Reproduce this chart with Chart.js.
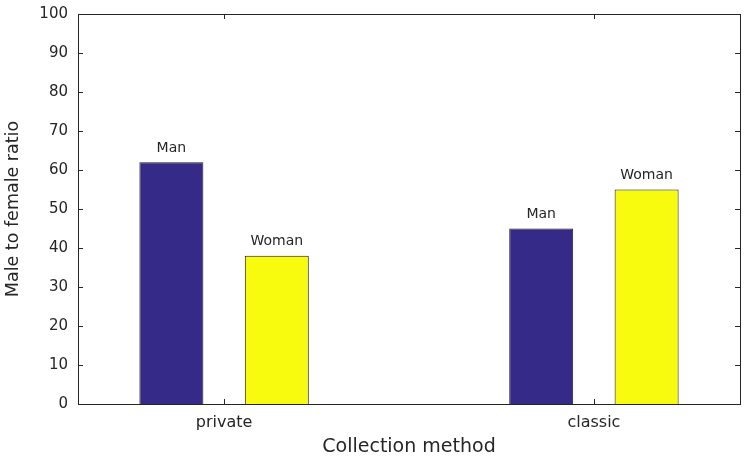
<!DOCTYPE html>
<html>
<head>
<meta charset="utf-8">
<script src="https://cdn.jsdelivr.net/npm/chart.js@4"></script>
<style>
  html, body { margin: 0; padding: 0; background: #fff; }
  #wrap { width: 756px; height: 464px; }
</style>
</head>
<body>
<div id="wrap"><canvas id="chart" width="756" height="464"></canvas></div>
<script>
const categories = ['private', 'classic'];
const seriesNames = ['Man', 'Woman'];
const manValues = [62, 45];
const womanValues = [38, 55];
const yTicks = [0, 10, 20, 30, 40, 50, 60, 70, 80, 90, 100];

const textColor = '#262626';
const fontFam = '"DejaVu Sans", "Liberation Sans", Arial, sans-serif';

// frame + inward tick marks, matlab style
const framePlugin = {
  id: 'frame',
  afterDraw(chart) {
    const { ctx, chartArea: a, scales } = chart;
    ctx.save();
    ctx.strokeStyle = '#262626';
    ctx.lineWidth = 1;
    ctx.strokeRect(Math.round(a.left) + 0.5, Math.round(a.top) + 0.5,
      Math.round(a.right - a.left), Math.round(a.bottom - a.top));
    ctx.beginPath();
    yTicks.forEach(v => {
      const y = Math.round(scales.y.getPixelForValue(v)) + 0.5;
      ctx.moveTo(a.left, y); ctx.lineTo(a.left + 5, y);
      ctx.moveTo(a.right, y); ctx.lineTo(a.right - 5, y);
    });
    categories.forEach((c, i) => {
      const x = Math.round(scales.x.getPixelForValue(i + 1)) + 0.5;
      ctx.moveTo(x, a.bottom); ctx.lineTo(x, a.bottom - 5);
      ctx.moveTo(x, a.top); ctx.lineTo(x, a.top + 5);
    });
    ctx.stroke();

    // series names above the bars
    ctx.fillStyle = textColor;
    ctx.font = '14px ' + fontFam;
    ctx.textAlign = 'center';
    ctx.textBaseline = 'middle';
    chart.data.datasets.forEach((ds, di) => {
      chart.getDatasetMeta(di).data.forEach(bar => {
        ctx.fillText(ds.label, bar.x, bar.y - 14);
      });
    });
    ctx.restore();
  }
};

new Chart(document.getElementById('chart'), {
  type: 'bar',
  data: {
    datasets: [
      {
        label: seriesNames[0],
        data: manValues.map((v, i) => ({ x: i + 1, y: v })),
        backgroundColor: 'rgb(53, 42, 135)',
        borderColor: '#1a1a1a',
        borderWidth: 1,
      },
      {
        label: seriesNames[1],
        data: womanValues.map((v, i) => ({ x: i + 1, y: v })),
        backgroundColor: 'rgb(249, 251, 14)',
        borderColor: '#1a1a1a',
        borderWidth: 1,
      },
    ],
  },
  options: {
    responsive: false,
    animation: false,
    maintainAspectRatio: false,
    categoryPercentage: 0.57,
    barPercentage: 0.607,
    layout: { padding: { top: 14, right: 16, left: 0, bottom: 0 } },
    plugins: {
      legend: { display: false },
      tooltip: { enabled: false },
    },
    scales: {
      x: {
        type: 'linear',
        offset: false,
        min: 0.605,
        max: 2.395,
        grid: { display: false, drawTicks: false },
        border: { display: false },
        ticks: {
          stepSize: 1,
          includeBounds: false,
          padding: 9,
          color: textColor,
          font: { size: 16, family: fontFam },
          callback: v => categories[v - 1] ?? '',
          maxRotation: 0,
        },
        title: {
          display: true,
          text: 'Collection method',
          color: textColor,
          font: { size: 19, family: fontFam },
          padding: { top: 4, bottom: 6 },
        },
        afterFit: s => { s.height = 60; s.paddingLeft = 0; s.paddingRight = 0; },
      },
      y: {
        min: 0,
        max: 100,
        grid: { display: false, drawTicks: false },
        border: { display: false },
        ticks: {
          stepSize: 10,
          padding: 10,
          color: textColor,
          font: { size: 15, family: fontFam },
        },
        title: {
          display: true,
          text: 'Male to female ratio',
          color: textColor,
          font: { size: 17.5, family: fontFam },
          padding: { top: 3, bottom: 4 },
        },
        afterFit: s => { s.width = 78; s.paddingTop = 0; s.paddingBottom = 0; },
      },
    },
  },
  plugins: [framePlugin],
});
</script>
</body>
</html>
